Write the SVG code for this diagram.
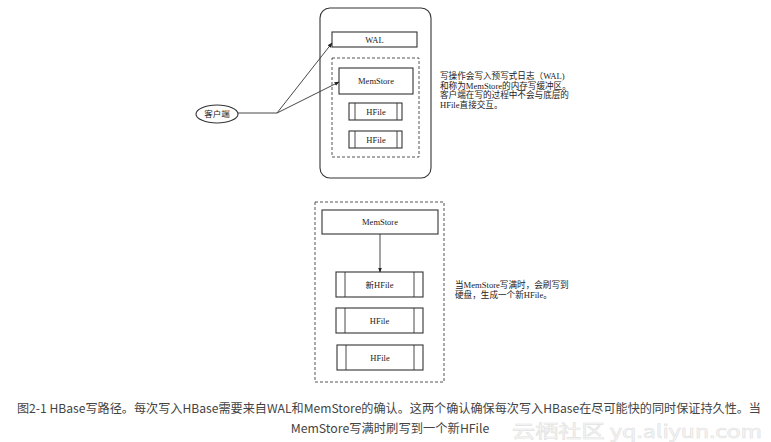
<svg xmlns="http://www.w3.org/2000/svg" width="771" height="442" viewBox="0 0 771 442">
<style>
.box{fill:#fff;stroke:#333;stroke-width:1.1}
.dash{fill:none;stroke:#555;stroke-width:1;stroke-dasharray:3,2}
.ln{fill:none;stroke:#333;stroke-width:0.9}
.lbl{font-family:"Liberation Serif","Noto Sans CJK SC",serif;font-size:8.5px;fill:#222;text-anchor:middle}
.note{font-family:"Liberation Serif","Noto Sans CJK SC",serif;font-size:8.6px;fill:#222}
.cap{font-family:"Noto Sans CJK SC","Noto Sans",sans-serif;font-size:12.3px;fill:#444}
.wm{font-family:"Noto Sans CJK SC","Noto Sans",sans-serif;font-size:18px;fill:#f4f4f4;fill-opacity:0.6;stroke:#e2e2e2;stroke-width:0.6}
</style>
<defs>
<marker id="ah" viewBox="0 0 10 10" refX="9" refY="5" markerWidth="5" markerHeight="5" orient="auto" markerUnits="userSpaceOnUse">
<path d="M0,1 L10,5 L0,9 z" fill="#222"/>
</marker>
</defs>
<rect width="771" height="442" fill="#fff"/>

<g id="regionserver">
<rect x="320" y="8" width="111" height="170" rx="10" ry="10" class="box" stroke-width="1.2"/>
</g>
<g id="wal">
<rect x="332" y="32" width="85" height="15" class="box"/>
<text x="374.5" y="42.8" class="lbl">WAL</text>
</g>
<g id="memgroup1">
<rect x="332" y="58" width="87" height="99" class="dash"/>
</g>
<g id="memstore1">
<rect x="339" y="68" width="74" height="26" class="box"/>
<text x="376" y="84" class="lbl">MemStore</text>
</g>
<g id="hfile1">
<rect x="349" y="103" width="53" height="17" class="box"/>
<line x1="355" y1="103" x2="355" y2="120" class="ln"/>
<line x1="397" y1="103" x2="397" y2="120" class="ln"/>
<text x="376" y="114.5" class="lbl">HFile</text>
</g>
<g id="hfile2">
<rect x="349" y="131" width="53" height="17" class="box"/>
<line x1="355" y1="131" x2="355" y2="148" class="ln"/>
<line x1="397" y1="131" x2="397" y2="148" class="ln"/>
<text x="376" y="142.5" class="lbl">HFile</text>
</g>
<g id="client">
<ellipse cx="217" cy="114" rx="21" ry="9" class="box"/>
<text x="217" y="117" class="lbl">客户端</text>
</g>

<g id="note1">
<text class="note"><tspan x="440" y="79">写操作会写入预写式日志（WAL)</tspan><tspan x="440" y="88.5">和称为MemStore的内存写缓冲区。</tspan><tspan x="440" y="98">客户端在写的过程中不会与底层的</tspan><tspan x="440" y="107.5">HFile直接交互。</tspan></text>
</g>

<g id="memgroup2">
<rect x="315" y="202" width="129" height="180" class="dash"/>
</g>
<g id="memstore2">
<rect x="322" y="210" width="116" height="24" class="box"/>
<text x="380" y="225" class="lbl">MemStore</text>
</g>
<g id="newhfile">
<rect x="336" y="272" width="87" height="25" class="box"/>
<line x1="345" y1="272" x2="345" y2="297" class="ln"/>
<line x1="414" y1="272" x2="414" y2="297" class="ln"/>
<text x="379.5" y="287.5" class="lbl">新HFile</text>
</g>
<g id="hfile3">
<rect x="336" y="308" width="87" height="25" class="box"/>
<line x1="345" y1="308" x2="345" y2="333" class="ln"/>
<line x1="414" y1="308" x2="414" y2="333" class="ln"/>
<text x="379.5" y="323.5" class="lbl">HFile</text>
</g>
<g id="hfile4">
<rect x="337" y="345" width="86" height="25" class="box"/>
<line x1="346" y1="345" x2="346" y2="370" class="ln"/>
<line x1="414" y1="345" x2="414" y2="370" class="ln"/>
<text x="380" y="360.5" class="lbl">HFile</text>
</g>

<g id="note2">
<text class="note"><tspan x="455" y="288">当MemStore写满时，会刷写到</tspan><tspan x="455" y="297.5">硬盘，生成一个新HFile。</tspan></text>
</g>

<g id="connectors">
<polyline points="238,113 277,113" class="ln"/>
<line x1="277" y1="113" x2="332" y2="43" class="ln" marker-end="url(#ah)"/>
<line x1="277" y1="113" x2="339" y2="82" class="ln" marker-end="url(#ah)"/>
<line x1="380" y1="234" x2="380" y2="272" class="ln" marker-end="url(#ah)"/>
</g>

<g id="caption">
<text x="17" y="413" class="cap" textLength="744" lengthAdjust="spacingAndGlyphs">图2-1 HBase写路径。每次写入HBase需要来自WAL和MemStore的确认。这两个确认确保每次写入HBase在尽可能快的同时保证持久性。当</text>
<text x="390" y="433" class="cap" text-anchor="middle">MemStore写满时刷写到一个新HFile</text>
</g>
<g id="watermark">
<text x="512" y="438" class="wm" textLength="250" lengthAdjust="spacingAndGlyphs">云栖社区 yq.aliyun.com</text>
</g>
</svg>
